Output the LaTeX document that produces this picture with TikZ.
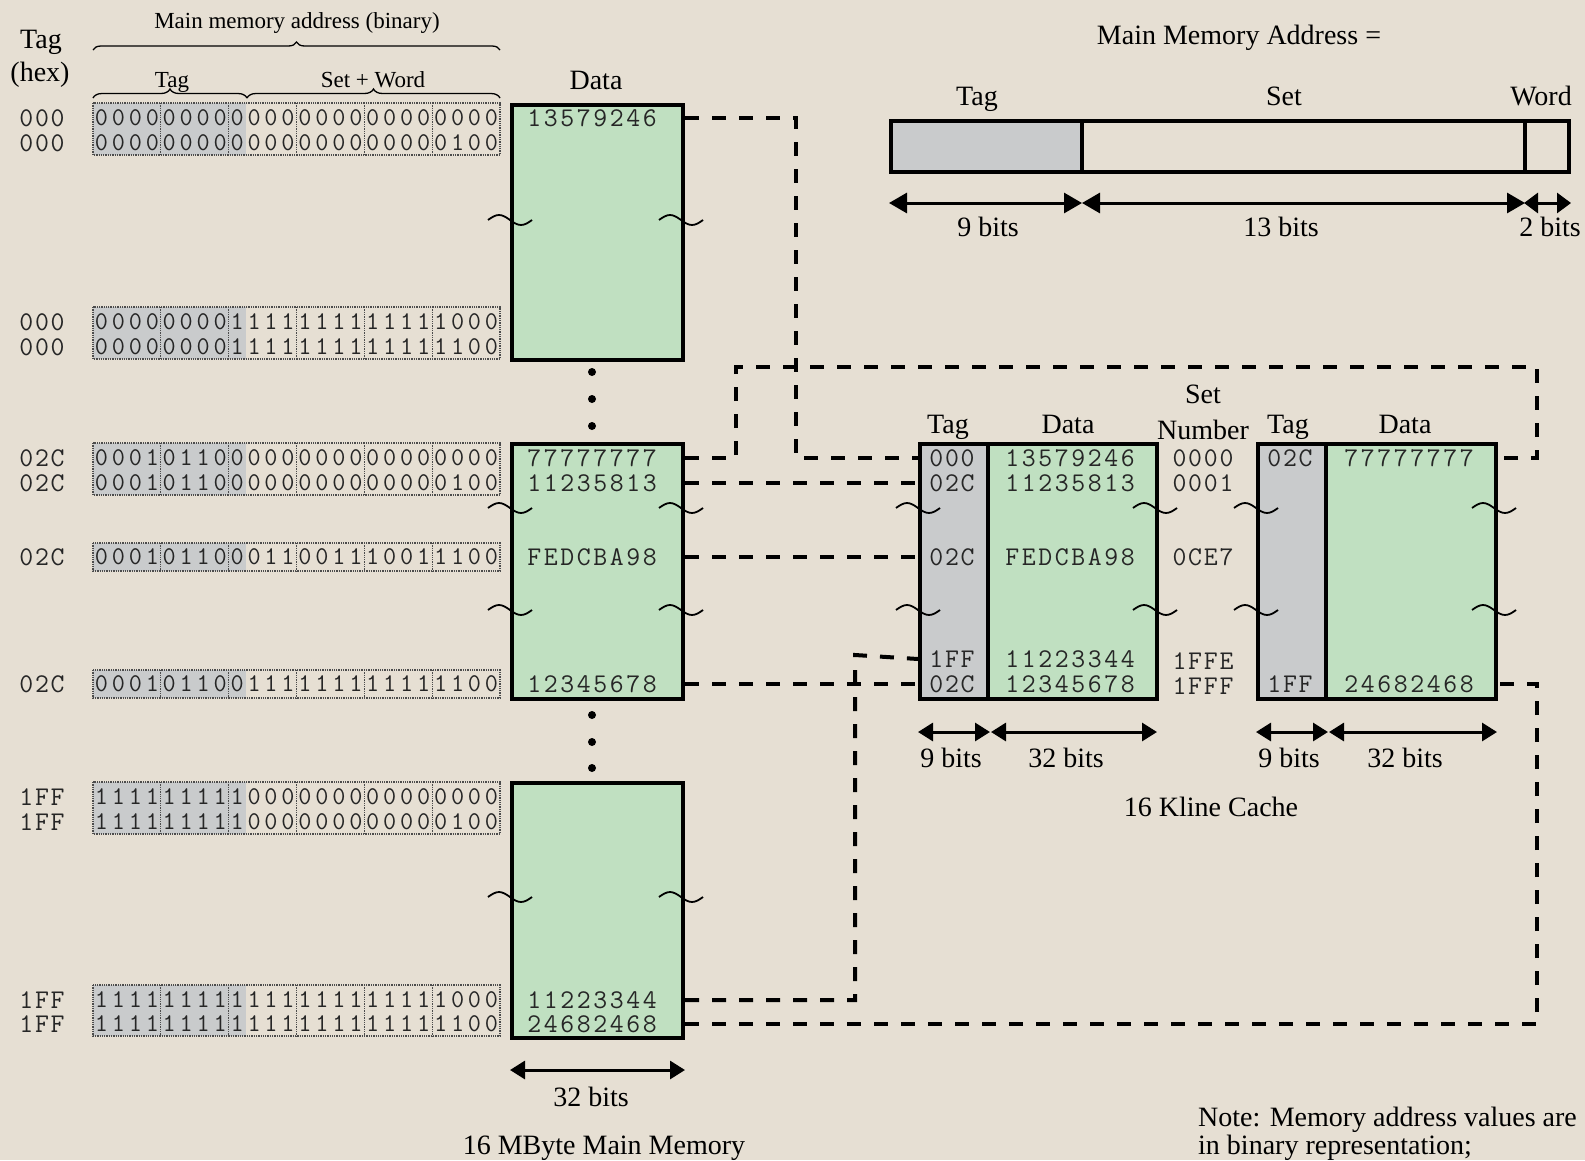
\documentclass[tikz,border=0pt]{standalone}
\usepackage{fontspec}
\setmainfont{Liberation Serif}
\usetikzlibrary{arrows.meta,decorations.pathreplacing}
\definecolor{bg}{RGB}{230,223,211}
\definecolor{memgreen}{RGB}{192,224,193}
\definecolor{taggray}{RGB}{201,203,204}
\newcommand\spreadchars[2]{\def\spw{#1}\spreadnext#2\relax}
\def\spreadnext#1{\ifx#1\relax\else\makebox[\spw][c]{#1}\expandafter\spreadnext\fi}
\newcommand\bits[1]{\spreadchars{16.958pt}{#1}}
\newcommand\dval[1]{\spreadchars{16.5pt}{#1}}
\newcommand\hval[1]{\spreadchars{15.7pt}{#1}}
\newcommand\brkmark[2]{\draw[brk] (#1-22,#2) sin (#1-11,#2-5) cos (#1,#2) sin (#1+11,#2+5) cos (#1+22,#2);}
\newcommand\bitframe[2]{%
  \fill[taggray] (93,#1) rectangle (245.6,#2);
}
\newcommand\bitlines[2]{%
  \draw[bitbox] (93,#1) rectangle (500,#2);
  \foreach \k in {160.8,228.7,296.5,364.3,432.2} {\draw[bitbox] (\k,#1) -- (\k,#2);}
}
\begin{document}
\begin{tikzpicture}[x=1pt,y=-1pt,
 lbl/.style={font=\fontsize{28}{30}\selectfont, inner sep=0pt, anchor=base},
 slbl/.style={font=\fontsize{23}{25}\selectfont, inner sep=0pt, anchor=base},
 mono/.style={font=\ttfamily\fontsize{27}{29}\selectfont, inner sep=0pt, text=black!85},
 bmono/.style={font=\ttfamily\fontsize{25.5}{27}\selectfont, inner sep=0pt, text=black!85},
 membox/.style={draw, line width=4pt, fill=memgreen, inner sep=0pt, anchor=north west},
 tagbox/.style={draw, line width=4pt, fill=taggray, inner sep=0pt, anchor=north west},
 conn/.style={line width=4pt, dash pattern=on 14pt off 13pt},
 dim/.style={line width=3pt, {Triangle[length=18pt,width=20pt]}-{Triangle[length=18pt,width=20pt]}},
 sdim/.style={line width=3pt, {Triangle[length=15pt,width=18pt]}-{Triangle[length=15pt,width=18pt]}},
 brk/.style={line width=1.8pt},
 bitbox/.style={densely dotted, line width=1.3pt, draw=black!70},
]
\useasboundingbox (0,0) rectangle (1585,1160);
\clip (0,0) rectangle (1585,1160);
\fill[bg] (0,0) rectangle (1585,1160);

% ---------- left header ----------
\node[lbl] (hTag) at (41,48) {Tag};
\node[lbl] (hHex) at (40,81) {(hex)};
\node[slbl] (hMain) at (297,28) {Main memory address (binary)};
\draw[line width=1.3pt, decorate, decoration={brace, amplitude=8pt}] (93,50) -- (500,50);
\node[slbl] (hTagb) at (172,87) {Tag};
\node[slbl] (hSW) at (373,87) {Set + Word};
\draw[line width=1.3pt, decorate, decoration={brace, amplitude=9pt}] (93,98) -- (247,98);
\draw[line width=1.3pt, decorate, decoration={brace, amplitude=9pt}] (247,98) -- (500,98);

% ---------- binary address rows ----------
\bitframe{103}{155}
\bitframe{307}{359}
\bitframe{443}{495}
\bitframe{543}{571}
\bitframe{670}{698}
\bitframe{782}{834}
\bitframe{985}{1036}

\node[mono] (t1) at (42,118) {\hval{000}};
\node[bmono] (b1) at (296.5,118) {\bits{000000000000000000000000}};
\node[mono] (t2) at (42,143) {\hval{000}};
\node[bmono] (b2) at (296.5,143) {\bits{000000000000000000000100}};
\node[mono] (t3) at (42,322) {\hval{000}};
\node[bmono] (b3) at (296.5,322) {\bits{000000001111111111111000}};
\node[mono] (t4) at (42,347) {\hval{000}};
\node[bmono] (b4) at (296.5,347) {\bits{000000001111111111111100}};
\node[mono] (t5) at (42,458) {\hval{02C}};
\node[bmono] (b5) at (296.5,458) {\bits{000101100000000000000000}};
\node[mono] (t6) at (42,483) {\hval{02C}};
\node[bmono] (b6) at (296.5,483) {\bits{000101100000000000000100}};
\node[mono] (t7) at (42,557) {\hval{02C}};
\node[bmono] (b7) at (296.5,557) {\bits{000101100011001110011100}};
\node[mono] (t8) at (42,684) {\hval{02C}};
\node[bmono] (b8) at (296.5,684) {\bits{000101100111111111111100}};
\node[mono] (t9) at (42,797) {\hval{1FF}};
\node[bmono] (b9) at (296.5,797) {\bits{111111111000000000000000}};
\node[mono] (t10) at (42,822) {\hval{1FF}};
\node[bmono] (b10) at (296.5,822) {\bits{111111111000000000000100}};
\node[mono] (t11) at (42,1000) {\hval{1FF}};
\node[bmono] (b11) at (296.5,1000) {\bits{111111111111111111111000}};
\node[mono] (t12) at (42,1024) {\hval{1FF}};
\node[bmono] (b12) at (296.5,1024) {\bits{111111111111111111111100}};

\bitlines{103}{155}
\bitlines{307}{359}
\bitlines{443}{495}
\bitlines{543}{571}
\bitlines{670}{698}
\bitlines{782}{834}
\bitlines{985}{1036}

% ---------- main memory ----------
\node[lbl] (mData) at (596,89) {Data};
\node[membox, minimum width=171pt, minimum height=255pt] (m1) at (510,103) {};
\node[membox, minimum width=171pt, minimum height=255pt] (m2) at (510,442) {};
\node[membox, minimum width=171pt, minimum height=255pt] (m3) at (510,781) {};

\node[mono] (d1) at (592,118) {\dval{13579246}};
\node[mono] (d2) at (592,458) {\dval{77777777}};
\node[mono] (d3) at (592,483) {\dval{11235813}};
\node[mono] (d4) at (592,557) {\dval{FEDCBA98}};
\node[mono] (d5) at (592,684) {\dval{12345678}};
\node[mono] (d6) at (592,1000) {\dval{11223344}};
\node[mono] (d7) at (592,1024) {\dval{24682468}};

\foreach \yy in {372,399,426,715,742,768} {\fill (592,\yy) circle (4pt);}

\brkmark{510}{220}\brkmark{681}{220}
\brkmark{510}{508}\brkmark{681}{508}
\brkmark{510}{610}\brkmark{681}{610}
\brkmark{510}{897}\brkmark{681}{897}

\draw[sdim] ([yshift=-30pt]m3.south west) -- ([yshift=-30pt]m3.south east);
\node[lbl] (m32) at (591,1106) {32 bits};
\node[lbl] (mTitle) at (604,1154) {16 MByte Main Memory};

% ---------- address format ----------
\node[lbl] (fTitle) at (1239,44) {Main Memory Address =};
\node[tagbox, minimum width=191pt, minimum height=51pt] (f1) at (889,119) {};
\node[draw, line width=4pt, inner sep=0pt, anchor=north west, minimum width=443pt, minimum height=51pt] (f2) at (1080,119) {};
\node[draw, line width=4pt, inner sep=0pt, anchor=north west, minimum width=44pt, minimum height=51pt] (f3) at (1523,119) {};
\node[lbl] (fTag) at (977,105) {Tag};
\node[lbl] (fSet) at (1284,105) {Set};
\node[lbl] (fWord) at (1541,105) {Word};
\draw[dim] ([yshift=-29pt]f1.south west) -- ([yshift=-29pt,xshift=-2pt]f1.south east);
\draw[dim] ([yshift=-29pt,xshift=2pt]f2.south west) -- ([yshift=-29pt,xshift=-2pt]f2.south east);
\draw[line width=3pt, {Triangle[length=14pt,width=20pt]}-{Triangle[length=14pt,width=20pt]}] ([yshift=-29pt,xshift=1pt]f3.south west) -- ([yshift=-29pt]f3.south east);
\node[lbl] (f9) at (988,236) {9 bits};
\node[lbl] (f13) at (1281,236) {13 bits};
\node[lbl] (f2b) at (1550,236) {2 bits};

% ---------- cache ----------
\node[tagbox, minimum width=68pt, minimum height=255pt] (ct1) at (918,442) {};
\node[membox, minimum width=169pt, minimum height=255pt] (cd1) at (986,442) {};
\node[tagbox, minimum width=68pt, minimum height=255pt] (ct2) at (1256,442) {};
\node[membox, minimum width=170pt, minimum height=255pt] (cd2) at (1324,442) {};

\node[lbl] (cTag1) at (948,433) {Tag};
\node[lbl] (cData1) at (1068,433) {Data};
\node[lbl] (cSet) at (1203,403) {Set};
\node[lbl] (cNum) at (1203,439) {Number};
\node[lbl] (cTag2) at (1288,433) {Tag};
\node[lbl] (cData2) at (1405,433) {Data};

\node[mono] (ca1) at (952,458) {\hval{000}};
\node[mono] (cb1) at (1070,458) {\dval{13579246}};
\node[mono] (ca2) at (952,483) {\hval{02C}};
\node[mono] (cb2) at (1070,483) {\dval{11235813}};
\node[mono] (ca3) at (952,557) {\hval{02C}};
\node[mono] (cb3) at (1070,557) {\dval{FEDCBA98}};
\node[mono] (ca4) at (952,659) {\hval{1FF}};
\node[mono] (cb4) at (1070,659) {\dval{11223344}};
\node[mono] (ca5) at (952,684) {\hval{02C}};
\node[mono] (cb5) at (1070,684) {\dval{12345678}};

\node[mono] (s1) at (1203,458) {\hval{0000}};
\node[mono] (s2) at (1203,483) {\hval{0001}};
\node[mono] (s3) at (1203,557) {\hval{0CE7}};
\node[mono] (s4) at (1203,661) {\hval{1FFE}};
\node[mono] (s5) at (1203,686) {\hval{1FFF}};

\node[mono] (ce1) at (1290,458) {\hval{02C}};
\node[mono] (cf1) at (1409,458) {\dval{77777777}};
\node[mono] (ce2) at (1290,684) {\hval{1FF}};
\node[mono] (cf2) at (1409,684) {\dval{24682468}};

\brkmark{918}{508}\brkmark{918}{610}
\brkmark{1155}{508}\brkmark{1155}{610}
\brkmark{1256}{508}\brkmark{1256}{610}
\brkmark{1494}{508}\brkmark{1494}{610}

\draw[sdim] ([yshift=-31pt]ct1.south west) -- ([yshift=-31pt]ct1.south east);
\draw[sdim] ([yshift=-31pt,xshift=5pt]cd1.south west) -- ([yshift=-31pt,xshift=-2pt]cd1.south east);
\draw[sdim] ([yshift=-31pt]ct2.south west) -- ([yshift=-31pt]ct2.south east);
\draw[sdim] ([yshift=-31pt,xshift=5pt]cd2.south west) -- ([yshift=-31pt,xshift=-1pt]cd2.south east);
\node[lbl] (c9a) at (951,767) {9 bits};
\node[lbl] (c32a) at (1066,767) {32 bits};
\node[lbl] (c9b) at (1289,767) {9 bits};
\node[lbl] (c32b) at (1405,767) {32 bits};
\node[lbl] (cTitle) at (1211,816) {16 Kline Cache};

% ---------- connectors ----------
\draw[conn] (m1.east |- d1) -| (796,458) -- (ct1.west |- ca1);
\draw[conn] (m2.east |- d2) -- (736,458) -- (736,367) -- (1537,367) -- (1537,458) -- (cd2.east |- cf1);
\draw[conn] (m2.east |- d3) -- (ct1.west |- ca2);
\draw[conn] (m2.east |- d4) -- (ct1.west |- ca3);
\draw[conn] (m2.east |- d5) -- (ct1.west |- ca5);
\draw[conn] (m3.east |- d6) -| (855,655) -- (ct1.west |- ca4);
\draw[conn] (m3.east |- d7) -| (1537,684) -- (cd2.east |- cf2);

% ---------- note ----------
\node[lbl, anchor=base west] (note1) at (1198,1126) {Note: Memory address values are};
\node[lbl, anchor=base west] (note2) at (1198,1154) {in binary representation;};
\end{tikzpicture}
\end{document}
